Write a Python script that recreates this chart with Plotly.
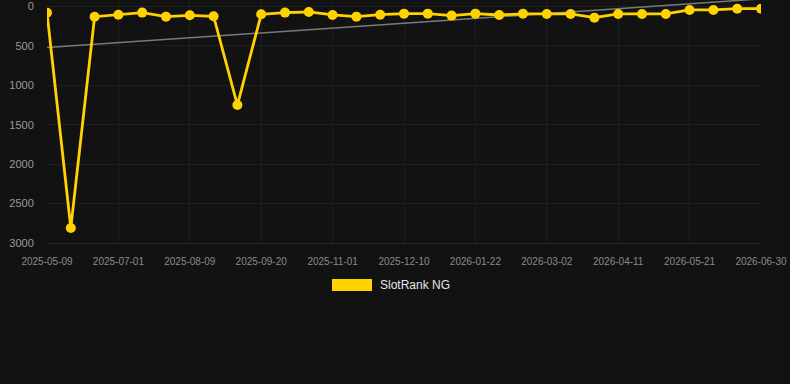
import plotly.graph_objects as go

dates = [
    "2025-05-09", "2025-05-27", "2025-06-14", "2025-07-01", "2025-07-14", "2025-07-27",
    "2025-08-09", "2025-08-23", "2025-09-06", "2025-09-20", "2025-10-04", "2025-10-18",
    "2025-11-01", "2025-11-14", "2025-11-27", "2025-12-10", "2025-12-24", "2026-01-07",
    "2026-01-22", "2026-02-04", "2026-02-17", "2026-03-02", "2026-03-15", "2026-03-28",
    "2026-04-11", "2026-04-24", "2026-05-07", "2026-05-21", "2026-06-03", "2026-06-16",
    "2026-06-30",
]
ranks = [
    80, 2810, 130, 104, 78, 129, 112, 124, 1250, 99, 78, 70,
    108, 129, 104, 91, 91, 116, 91, 108, 93, 95, 95, 142,
    95, 95, 95, 44, 44, 28, 28,
]
trend_x = [dates[0], dates[-1]]
trend_y = [522, -96]
y_ticks = [0, 500, 1000, 1500, 2000, 2500, 3000]
series_name = "SlotRank NG"

GOLD = "#FFD200"
BG = "#121212"
GRID = "#1e1e1e"

fig = go.Figure()
fig.add_trace(go.Scatter(
    x=trend_x, y=trend_y, mode="lines",
    line=dict(color="#7a7a7a", width=1.5),
    showlegend=False, hoverinfo="skip",
))
fig.add_trace(go.Scatter(
    x=dates, y=ranks, mode="lines+markers", name=series_name,
    line=dict(color=GOLD, width=2.8),
    marker=dict(color=GOLD, size=10),
    showlegend=False,
))

fig.update_layout(
    width=790, height=384,
    margin=dict(l=47, r=29, t=0, b=141),
    paper_bgcolor=BG, plot_bgcolor=BG,
    font=dict(family="Liberation Sans, Arial, sans-serif", color="#8a8a8a"),
    xaxis=dict(
        type="category", categoryorder="array", categoryarray=dates,
        range=[0, len(dates) - 1],
        tickmode="array", tickvals=dates[::3], ticktext=dates[::3],
        tickfont=dict(size=10, color="#8a8a8a"),
        showgrid=True, gridcolor=GRID, gridwidth=1,
        zeroline=False, showline=True, linecolor="#262626", linewidth=1,
        ticks="outside", ticklen=9, tickcolor=BG,
        tickangle=0,
    ),
    yaxis=dict(
        range=[3000, -82], tickvals=y_ticks,
        tickfont=dict(size=11, color="#9a9a9a"),
        showgrid=True, gridcolor=GRID, gridwidth=1,
        zeroline=False, showline=False, ticks="outside", ticklen=10, tickcolor=BG,
    ),
    shapes=[dict(
        type="rect", xref="paper", yref="paper",
        x0=(332 - 47) / 714, x1=(372 - 47) / 714,
        y0=(243 - 291) / 243, y1=(243 - 279) / 243,
        fillcolor=GOLD, line=dict(width=0),
    )],
    annotations=[dict(
        text=series_name, xref="paper", yref="paper",
        x=(378 - 47) / 714, y=(243 - 285) / 243,
        xanchor="left", yanchor="middle", showarrow=False,
        font=dict(size=12, color="#e6e6e6"),
    )],
)

fig.write_html("out.html")
